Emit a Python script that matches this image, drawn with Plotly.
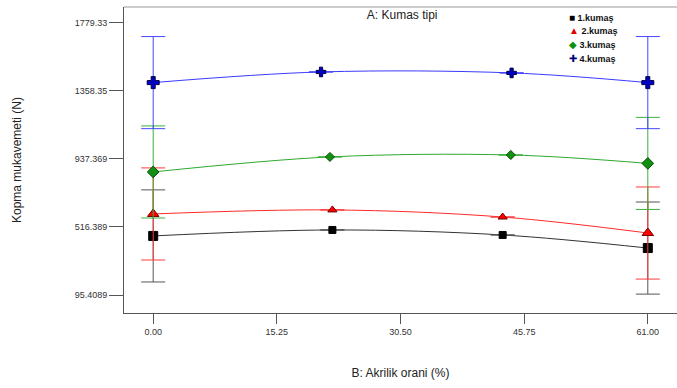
import plotly.graph_objects as go

# Data
acrylic = {
    "1.kumaş": [0.0, 22.1, 43.1, 61.0],
    "2.kumaş": [0.0, 22.1, 43.1, 61.0],
    "3.kumaş": [0.0, 21.8, 44.1, 61.0],
    "4.kumaş": [0.0, 20.7, 44.2, 61.0],
}
strength_1 = [461, 498, 467, 386]
strength_2 = [597, 622, 578, 479]
strength_3 = [857, 950, 962, 910]
strength_4 = [1410, 1476, 1470, 1410]
err_1 = [285, None, None, 285]
err_2 = [285, None, None, 285]
err_3 = [285, None, None, 285]
err_4 = [285, None, None, 285]

y_ticks = [95.4089, 516.389, 937.369, 1358.35, 1779.33]
y_tick_text = ["95.4089", "516.389", "937.369", "1358.35", "1779.33"]
x_ticks = [0, 15.25, 30.5, 45.75, 61]
x_tick_text = ["0.00", "15.25", "30.50", "45.75", "61.00"]

series = [
    ("1.kumaş", strength_1, err_1, "#333333", "#555555", "square", "#000000", "#000000", "■"),
    ("2.kumaş", strength_2, err_2, "#ff2a2a", "#ff3b3b", "triangle-up", "#ff0000", "#700000", "▲"),
    ("3.kumaş", strength_3, err_3, "#2ea82e", "#3cb03c", "diamond", "#109010", "#0a4a0a", "◆"),
    ("4.kumaş", strength_4, err_4, "#3a3aff", "#4646ff", "cross", "#0000c8", "#000040", "✚"),
]
sizes = {
    "square": [9, 7, 7, 9],
    "triangle-up": [10, 8, 8, 10],
    "diamond": [9, 7, 7, 9],
    "cross": [10, 8, 8, 10],
}
legend_colors = {"■": "#000000", "▲": "#e00000", "◆": "#109010", "✚": "#00007a"}

fig = go.Figure()
for name, ys, errs, lcol, ecol, sym, mcol, olcol, glyph in series:
    xs = acrylic[name]
    fig.add_trace(go.Scatter(
        x=xs, y=ys, mode="lines", line=dict(color=lcol, width=1, shape="spline"),
        showlegend=False, hoverinfo="skip"))
    fig.add_trace(go.Scatter(
        x=xs, y=ys, mode="markers", name=name, showlegend=False,
        marker=dict(symbol=sym, color=mcol, size=sizes[sym], opacity=1,
                    line=dict(color=olcol, width=1)),
        error_y=dict(type="data", array=errs, symmetric=True, color=ecol, thickness=1, width=12),
    ))

# Legend as text entries (tight spacing like the reference)
legend_y = [0.967, 0.922, 0.879, 0.833]
annotations = []
for (name, *_rest), ly in zip(series, legend_y):
    glyph = _rest[-1]
    annotations.append(dict(
        xref="paper", yref="paper", x=0.801, y=ly, xanchor="left", yanchor="middle",
        showarrow=False,
        text=f"<span style='color:{legend_colors[glyph]};font-size:10px'>{glyph}</span> <b>{name}</b>",
        font=dict(size=9, color="#111111", family="Liberation Sans, Arial, sans-serif"),
    ))

fig.update_layout(
    width=677, height=388,
    margin=dict(l=124, r=0, t=7, b=75, autoexpand=False),
    paper_bgcolor="white", plot_bgcolor="white",
    font=dict(family="Liberation Sans, Arial, sans-serif", color="#222222"),
    title=dict(text="A: Kumas tipi", x=0.503, xref="paper", xanchor="center",
               y=0.962, yanchor="middle",
               font=dict(size=12, color="#222222")),
    showlegend=False,
    annotations=annotations,
    xaxis=dict(range=[-3.6, 64.6], tickvals=x_ticks, ticktext=x_tick_text, automargin=False,
               showgrid=False, zeroline=False, showline=True, linecolor="#555555", linewidth=1,
               ticks="outside", ticklen=10, tickcolor="#555555",
               tickfont=dict(size=9, color="#333333"),
               title=dict(text="B: Akrilik orani (%)", font=dict(size=12, color="#222222"), standoff=32)),
    yaxis=dict(range=[-16, 1878], tickvals=y_ticks, ticktext=y_tick_text, automargin=False,
               showgrid=False, zeroline=False, showline=True, linecolor="#555555", linewidth=1,
               ticks="outside", ticklen=14, tickcolor="#555555",
               tickfont=dict(size=9, color="#333333"),
               title=dict(text="Kopma mukavemeti (N)", font=dict(size=12, color="#222222"), standoff=50)),
    shapes=[dict(type="line", xref="paper", yref="paper", x0=0, x1=1, y0=1, y1=1,
                 line=dict(color="#999999", width=1))],
)

fig.write_html("out.html", config={"displayModeBar": False},
               post_script="document.body.style.margin='0';")
